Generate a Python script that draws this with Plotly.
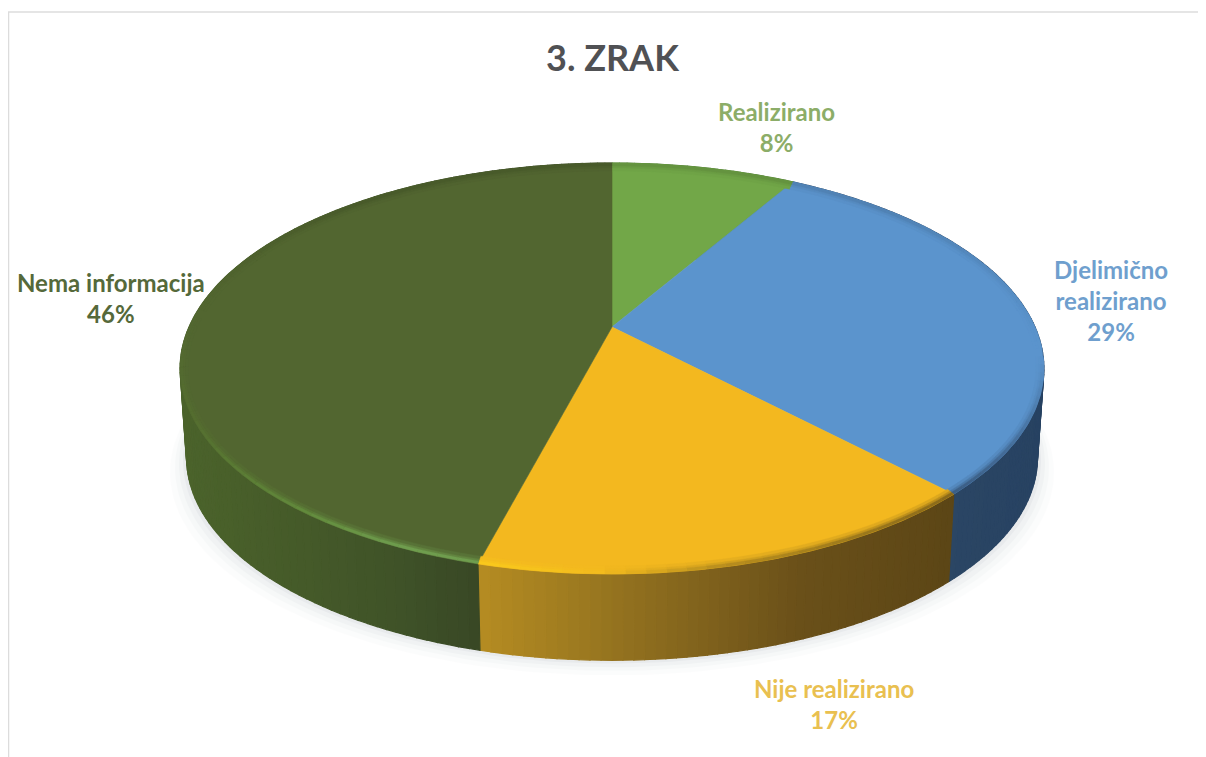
import numpy as np
import plotly.graph_objects as go

categories = ["Realizirano", "Djelimično realizirano", "Nije realizirano", "Nema informacija"]
values = [8, 29, 17, 46]
title_text = "3. ZRAK"

top_colors = ["#72a748", "#5b94cd", "#f3b81f", "#526630"]
label_colors = ["#8cad68", "#6f9fce", "#e9c050", "#55693a"]
label_texts = ["Realizirano", "Djelimično<br>realizirano", "Nije realizirano", "Nema informacija"]
label_xy = [(776, 127), (1111, 300), (834, 704), (111, 298)]

# side shading stops: (screen x, colour)
side_stops = [
    [(780, "#4d7a35"), (800, "#4d7a35")],
    [(950, "#2b4664"), (1045, "#274262")],
    [(480, "#b58c22"), (620, "#93721f"), (800, "#6a5019"), (950, "#5c4616")],
    [(180, "#4b632b"), (300, "#455a29"), (400, "#3f5228"), (480, "#384725")],
]
# bevel colour along the front edge: (screen x, colour)
rim_stops = [
    [(780, "#72a748"), (800, "#72a748")],
    [(950, "#3c5f86"), (1045, "#3c5f86")],
    [(480, "#f9c91c"), (600, "#f3bb1e"), (720, "#b98f1e"), (950, "#8a6a1a")],
    [(190, "#55702f"), (300, "#628a3c"), (400, "#6f9d4e"), (480, "#6f9d4e")],
]
back_shade = 0.88

CX, CY, B, A, K = 612, 327, 423, 197.1, 0.202
EX, EY, ERX, ERY = 612, 367, 432, 205
DEPTH, BOTTOM_SCALE = 90, 0.985
WARP = np.radians(3.0)


def hex_rgb(c):
    return np.array([int(c[i:i + 2], 16) for i in (1, 3, 5)], float)


def rgb_hex(c):
    return "#%02x%02x%02x" % tuple(int(round(v)) for v in c)


def shade(stops, x):
    xs = [s[0] for s in stops]
    cs = np.array([hex_rgb(s[1]) for s in stops])
    return rgb_hex([np.interp(x, xs, cs[:, i]) for i in range(3)])


def top_pt(t):
    t = t + WARP * (1 - np.cos(2 * t))
    w = 1 + K * np.cos(t)
    return CX + B * np.sin(t) / w, CY - A * np.cos(t) / w


def inset_pt(t, d):
    x, y = top_pt(t)
    return EX + (x - EX) * (1 - d / ERX), EY + (y - EY) * (1 - d / ERY)


def bottom_pt(t):
    x, y = top_pt(t)
    return CX + BOTTOM_SCALE * (x - CX), CY + DEPTH + BOTTOM_SCALE * (y - CY)


def poly(x, y, color, opacity=1.0, lw=1.2):
    return go.Scatter(x=list(x), y=list(y), mode="lines", fill="toself", fillcolor=color,
                      opacity=opacity, line=dict(color=color, width=lw), hoverinfo="skip",
                      showlegend=False)


fig = go.Figure()

# soft shadow under the disc
ring = np.linspace(0, 2 * np.pi, 240)
for grow, op in [(16, 0.025), (11, 0.035), (7, 0.05), (3, 0.08)]:
    bx, by = bottom_pt(ring)
    fig.add_trace(poly(CX + (bx - CX) * (1 + grow / 430), by + grow * 0.9, "#8f9aa8", op))

edges = 2 * np.pi * np.concatenate([[0], np.cumsum(values)]) / sum(values)

# side wall: the top surface hides the back half
for i in range(len(values)):
    ts = np.linspace(edges[i], edges[i + 1], max(8, int(values[i] * 3)) + 1)
    for a, b in zip(ts[:-1], ts[1:]):
        x0, y0 = top_pt(a)
        x1, y1 = top_pt(b)
        x2, y2 = bottom_pt(b)
        x3, y3 = bottom_pt(a)
        fig.add_trace(poly([x0, x1, x2, x3, x0], [y0, y1, y2, y3, y0],
                           shade(side_stops[i], (x0 + x1) / 2)))

# top surface
for i in range(len(values)):
    ts = np.linspace(edges[i], edges[i + 1], 120)
    px, py = top_pt(ts)
    fig.add_trace(go.Scatter(x=[CX, *px, CX], y=[CY, *py, CY], mode="lines", fill="toself",
                             fillcolor=top_colors[i], line=dict(color=top_colors[i], width=0.6),
                             name=categories[i], text=f"{categories[i]}: {values[i]}%",
                             hoverinfo="text", showlegend=False))

# bevel bands along the disc edge: lit or shaded at the front, slightly dark at the back
bands = [(5, 8, 0.22), (3, 5, 0.55), (0, 3, 1.0)]
for d0, d1, strength in bands:
    for i in range(len(values)):
        ts = np.linspace(edges[i], edges[i + 1], max(8, int(values[i] * 1.6)) + 1)
        for a, b in zip(ts[:-1], ts[1:]):
            mid = (a + b) / 2
            base = hex_rgb(top_colors[i])
            xa, ya = inset_pt(np.array([a, b]), d0)
            xb, yb = inset_pt(np.array([b, a]), d1)
            if np.cos(mid) < 0:
                front = float(np.clip(-np.cos(mid) * 1.6 - 0.05, 0, 1))
                if front <= 0.01:
                    continue
                rim = hex_rgb(shade(rim_stops[i], xa.mean()))
                col = rgb_hex(base + (rim - base) * front * strength)
            else:
                back = float(np.clip(np.cos(mid) * 1.4, 0, 1))
                col = rgb_hex(base * (1 - (1 - back_shade) * back * strength))
            fig.add_trace(poly([*xa, *xb, xa[0]], [*ya, *yb, ya[0]], col, lw=0.4))

annotations = [dict(x=612, y=57, text=f"<b>{title_text}</b>", showarrow=False,
                    font=dict(family="Lato", size=36, color="#505154"))]
for txt, v, col, (lx, ly) in zip(label_texts, values, label_colors, label_xy):
    annotations.append(dict(x=lx, y=ly, text=f"<b>{txt}<br>{v}%</b>", showarrow=False,
                            align="center", font=dict(family="Lato", size=24, color=col)))

border = dict(color="#dcdcdc", width=1.5)
# the page adds an 8 px body margin, so the plot covers 8..1206 and 8..757 of the window
fig.update_layout(
    width=1198, height=749, margin=dict(l=0, r=0, t=0, b=0),
    paper_bgcolor="white", plot_bgcolor="white", showlegend=False,
    xaxis=dict(range=[8, 1206], visible=False, fixedrange=True),
    yaxis=dict(range=[757, 8], visible=False, fixedrange=True),
    annotations=annotations,
    shapes=[dict(type="line", x0=8, x1=1206, y0=12, y1=12, line=border),
            dict(type="line", x0=8.5, x1=8.5, y0=12, y1=757, line=border)],
)
fig.write_html("out.html", config=dict(displayModeBar=False))
